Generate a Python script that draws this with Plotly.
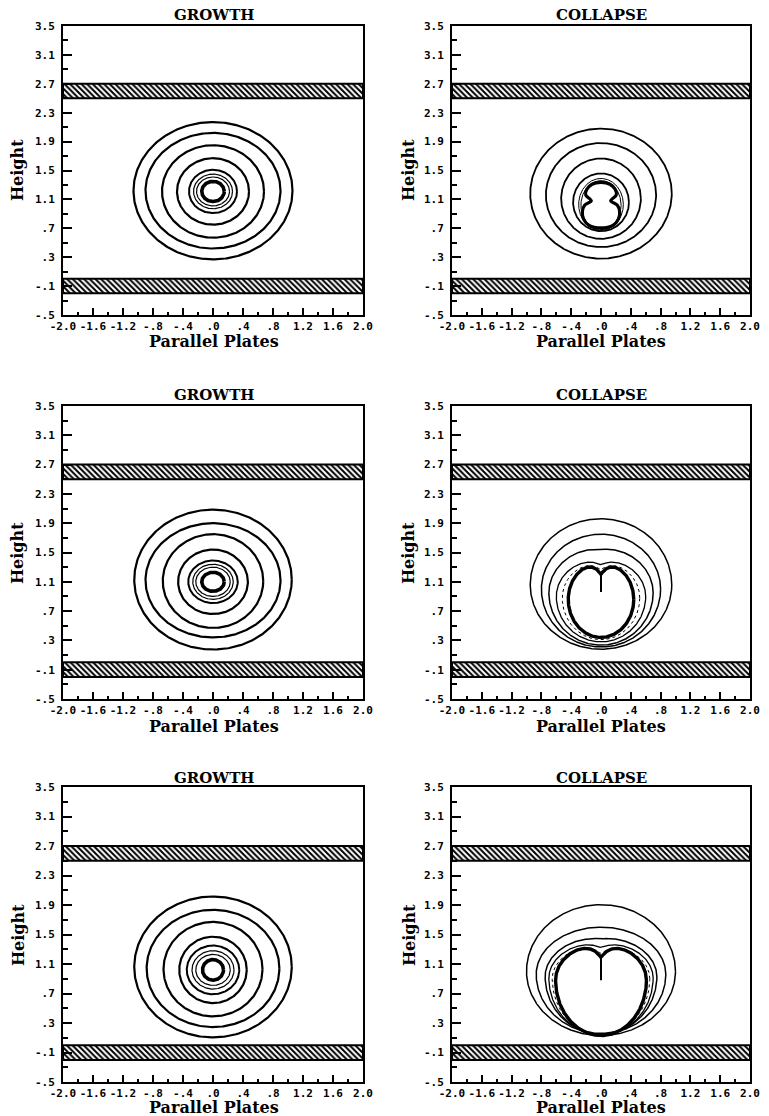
import numpy as np
import plotly.graph_objects as go

# ---------------- axis ticks ----------------
x_tickvals = [-2.0, -1.6, -1.2, -0.8, -0.4, 0.0, 0.4, 0.8, 1.2, 1.6, 2.0]
x_ticktext = ["-2.0", "-1.6", "-1.2", "-.8", "-.4", ".0", ".4", ".8", "1.2", "1.6", "2.0"]
y_tickvals = [3.5, 3.1, 2.7, 2.3, 1.9, 1.5, 1.1, 0.7, 0.3, -0.1, -0.5]
y_ticktext = ["3.5", "3.1", "2.7", "2.3", "1.9", "1.5", "1.1", ".7", ".3", "-.1", "-.5"]
x_range = [-2.0, 2.0]
y_range = [-0.5, 3.5]

panel_titles = ["GROWTH", "COLLAPSE", "GROWTH", "COLLAPSE", "GROWTH", "COLLAPSE"]
x_label = "Parallel Plates"
y_label = "Height"

# ---------------- plates (y extents) ----------------
plate_lower = [-0.2, 0.0]
plate_upper = [2.5, 2.7]

# ---------------- growth contours (ellipses) per row ----------------
growth_cy = [
    [1.22, 1.22, 1.21, 1.21, 1.21, 1.21, 1.21, 1.21],
    [1.13, 1.12, 1.11, 1.10, 1.10, 1.10, 1.10, 1.10],
    [1.06, 1.04, 1.03, 1.02, 1.02, 1.02, 1.02, 1.02],
]
growth_ax = [
    [1.06, 0.90, 0.68, 0.48, 0.32, 0.26, 0.22, 0.15],
    [1.05, 0.90, 0.67, 0.465, 0.33, 0.27, 0.23, 0.15],
    [1.05, 0.885, 0.66, 0.45, 0.35, 0.28, 0.23, 0.14],
]
growth_by = [
    [0.95, 0.80, 0.64, 0.46, 0.30, 0.24, 0.20, 0.14],
    [0.955, 0.78, 0.64, 0.44, 0.29, 0.24, 0.20, 0.13],
    [0.955, 0.795, 0.64, 0.45, 0.33, 0.26, 0.21, 0.14],
]
growth_lw = [2.2, 2.2, 2.2, 2.2, 2.0, 1.2, 1.2, 3.6]

# ---------------- collapse contours (egg / heart outlines) per row ----------------
collapse_a = [
    [0.95, 0.74, 0.535, 0.375, 0.30, 0.27],
    [0.95, 0.80, 0.70, 0.60, 0.52, 0.44],
    [1.00, 0.87, 0.75, 0.70, 0.655, 0.61],
]
collapse_cy = [
    [1.18, 1.16, 1.11, 1.06, 1.03, 1.02],
    [1.06, 1.00, 0.95, 0.90, 0.88, 0.86],
    [1.00, 0.96, 0.93, 0.91, 0.90, 0.88],
]
collapse_bt = [
    [0.90, 0.72, 0.556, 0.40, 0.36, 0.34],
    [0.90, 0.75, 0.62, 0.52, 0.50, 0.52],
    [0.905, 0.64, 0.54, 0.50, 0.47, 0.50],
]
collapse_bb = [
    [0.90, 0.72, 0.556, 0.40, 0.36, 0.34],
    [0.88, 0.79, 0.715, 0.62, 0.57, 0.52],
    [0.87, 0.80, 0.78, 0.77, 0.76, 0.75],
]
collapse_dd = [
    [0.0, 0.0, 0.0, 0.0, 0.0, 0.0],
    [0.0, 0.0, 0.03, 0.09, 0.12, 0.18],
    [0.0, 0.0, 0.03, 0.09, 0.13, 0.19],
]
collapse_dw = [
    [0.1, 0.1, 0.1, 0.1, 0.1, 0.1],
    [0.2, 0.2, 0.25, 0.16, 0.13, 0.11],
    [0.2, 0.2, 0.25, 0.18, 0.15, 0.13],
]
collapse_lw = [
    [1.8, 1.8, 1.8, 1.8, 1.0, 1.0],
    [1.5, 1.5, 1.5, 1.3, 1.0, 3.4],
    [1.5, 1.5, 1.5, 1.3, 1.0, 3.4],
]
collapse_dash = [
    ["solid"] * 6,
    ["solid", "solid", "solid", "solid", "dot", "solid"],
    ["solid", "solid", "solid", "solid", "dot", "solid"],
]
# re-entrant jet (rows 2, 3): tip height
jet_tip = [None, 0.96, 0.88]

# early-collapse bubble outline (row 1), right half from top to bottom
bubble1_x = [0.00, 0.12, 0.19, 0.205, 0.13, 0.22, 0.25, 0.235, 0.16, 0.00]
bubble1_y = [1.335, 1.31, 1.24, 1.16, 1.08, 1.02, 0.93, 0.83, 0.74, 0.705]

# ---------------- layout geometry ----------------
W, H = 769, 1116
col_dom = [[63 / W, 363 / W], [452 / W, 750 / W]]
row_dom = [[1 - 315 / H, 1 - 26 / H], [1 - 699 / H, 1 - 406 / H], [1 - 1082 / H, 1 - 787 / H]]
title_y = [15, 395, 778]
xlabel_y = [342, 726, 1107]
ylabel_y = [170, 553, 935]
col_cx = [214, 601]
ylabel_x = [18, 409]

TICKFONT = dict(family="DejaVu Sans Mono", size=11, color="black", weight="bold")
SERIF = "DejaVu Serif"

fig = go.Figure()


def ax_name(kind, i):
    return kind if i == 1 else f"{kind}{i}"


def ellipse(cx, cy, a, b, n=361):
    t = np.linspace(0, 2 * np.pi, n)
    return cx + a * np.cos(t), cy + b * np.sin(t)


def egg(a, cy, bt, bb, dd, dw, n=500):
    t = np.linspace(0, 2 * np.pi, n)
    x = a * np.cos(t)
    s = np.sin(t)
    y = cy + np.where(s >= 0, bt, bb) * s
    y = y - np.where(s > 0, dd * np.exp(-np.abs(x) / dw), 0.0)
    return x, y


line_kw = dict(mode="lines", hoverinfo="skip", showlegend=False)

for p in range(6):
    r, c = divmod(p, 2)
    i = p + 1
    xa, ya = f"x{'' if i == 1 else i}", f"y{'' if i == 1 else i}"

    # plates
    for lo, hi in (plate_lower, plate_upper):
        fig.add_trace(go.Scatter(
            x=[x_range[0], x_range[1], x_range[1], x_range[0], x_range[0]],
            y=[lo, lo, hi, hi, lo], fill="toself", fillcolor="white",
            fillpattern=dict(shape="\\", size=4, solidity=0.5, fgcolor="black", bgcolor="white"),
            line=dict(color="black", width=2), xaxis=xa, yaxis=ya, **line_kw))

    if c == 0:
        for cy, a, b, lw in zip(growth_cy[r], growth_ax[r], growth_by[r], growth_lw):
            ex, ey = ellipse(0.0, cy, a, b)
            fig.add_trace(go.Scatter(x=ex, y=ey, line=dict(color="black", width=lw),
                                     xaxis=xa, yaxis=ya, **line_kw))
    else:
        for a, cy, bt, bb, dd, dw, lw, ds in zip(collapse_a[r], collapse_cy[r], collapse_bt[r],
                                                 collapse_bb[r], collapse_dd[r], collapse_dw[r],
                                                 collapse_lw[r], collapse_dash[r]):
            ex, ey = egg(a, cy, bt, bb, dd, dw)
            fig.add_trace(go.Scatter(x=ex, y=ey, line=dict(color="black", width=lw, dash=ds),
                                     xaxis=xa, yaxis=ya, **line_kw))
        if jet_tip[r] is not None:
            top = collapse_cy[r][-1] + collapse_bt[r][-1] - collapse_dd[r][-1]
            fig.add_trace(go.Scatter(x=[0.0, 0.0], y=[top, jet_tip[r]],
                                     line=dict(color="black", width=2),
                                     xaxis=xa, yaxis=ya, **line_kw))
        else:
            bx = bubble1_x + [-v for v in bubble1_x[-2:0:-1]] + [bubble1_x[0]]
            by = bubble1_y + bubble1_y[-2:0:-1] + [bubble1_y[0]]
            fig.add_trace(go.Scatter(x=bx, y=by,
                                     line=dict(color="black", width=3.2, shape="spline", smoothing=0.9),
                                     xaxis=xa, yaxis=ya, **line_kw))

    x_minor = list(np.array(x_tickvals[:-1]) + 0.2)
    y_minor = list(np.array(y_tickvals[1:]) + 0.2)
    fig.layout[ax_name("xaxis", i)] = dict(
        domain=col_dom[c], range=x_range, anchor=ya, showgrid=False, zeroline=False,
        showline=True, linecolor="black", linewidth=2, mirror=True, automargin=False,
        tickmode="array", tickvals=x_tickvals, ticktext=x_ticktext,
        ticks="inside", ticklen=7, tickwidth=1.6, tickcolor="black", tickfont=TICKFONT,
        minor=dict(tickvals=x_minor, ticks="inside", ticklen=3, tickwidth=1.6, tickcolor="black"),
        fixedrange=True)
    fig.layout[ax_name("yaxis", i)] = dict(
        domain=row_dom[r], range=y_range, anchor=xa, showgrid=False, zeroline=False,
        showline=True, linecolor="black", linewidth=2, mirror=True, automargin=False,
        tickmode="array", tickvals=y_tickvals, ticktext=y_ticktext,
        ticks="inside", ticklen=9, tickwidth=1.6, tickcolor="black", tickfont=TICKFONT,
        ticklabelstandoff=4,
        minor=dict(tickvals=y_minor, ticks="inside", ticklen=5, tickwidth=1.6, tickcolor="black"),
        fixedrange=True)

    # annotations
    ann = dict(xref="paper", yref="paper", showarrow=False, xanchor="center", yanchor="middle")
    fig.add_annotation(text=panel_titles[p], x=col_cx[c] / W, y=1 - title_y[r] / H,
                       font=dict(family=SERIF, size=15, color="black", weight="bold"), **ann)
    fig.add_annotation(text=x_label, x=col_cx[c] / W, y=1 - xlabel_y[r] / H,
                       font=dict(family=SERIF, size=16, color="black", weight="bold"), **ann)
    fig.add_annotation(text=y_label, x=ylabel_x[c] / W, y=1 - ylabel_y[r] / H, textangle=-90,
                       font=dict(family=SERIF, size=16, color="black", weight="bold"), **ann)

fig.update_layout(width=W, height=H, margin=dict(l=0, r=0, t=0, b=0, autoexpand=False),
                  template="none",
                  paper_bgcolor="white", plot_bgcolor="white", showlegend=False,
                  hovermode=False)

fig.write_html("out.html", config={"displayModeBar": False},
               post_script="document.body.style.margin='0';document.body.style.padding='0';")
